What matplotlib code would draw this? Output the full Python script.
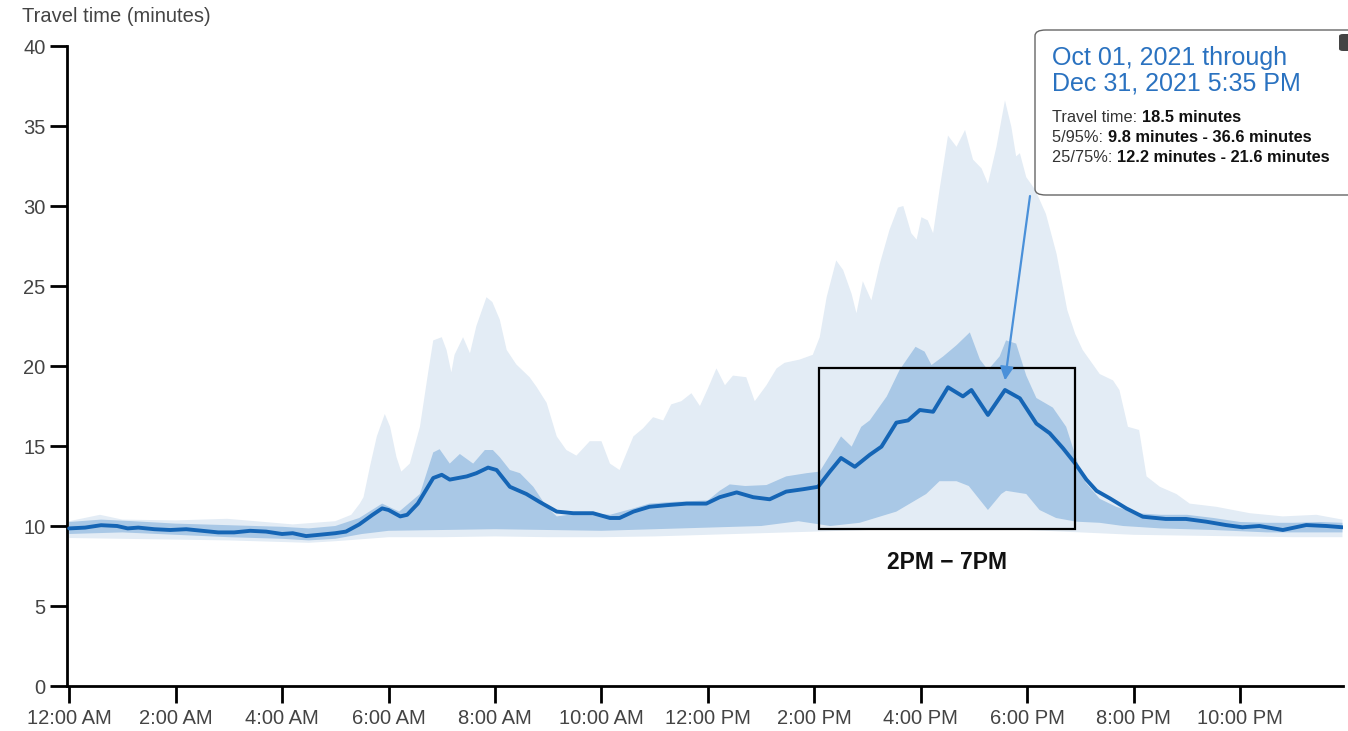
import matplotlib
matplotlib.use("Agg")
import matplotlib.pyplot as plt
import numpy as np
from matplotlib.patches import FancyBboxPatch, Rectangle

plt.rcParams["font.family"] = ["Liberation Sans", "DejaVu Sans"]

# ---- data (hours after midnight, minutes) ---------------------------------
MED_H = [0.0, 0.3, 0.6, 0.9, 1.1, 1.3, 1.6, 1.9, 2.2, 2.5, 2.8, 3.1, 3.4, 3.7,
         4.0, 4.2, 4.45, 4.7, 5.0, 5.2, 5.45, 5.7, 5.88, 6.0, 6.22, 6.35, 6.55,
         6.84, 7.0, 7.15, 7.47, 7.65, 7.87, 8.03, 8.28, 8.59, 8.84, 9.16, 9.47,
         9.84, 10.16, 10.34, 10.6, 10.9, 11.22, 11.6, 11.97, 12.22, 12.54,
         12.85, 13.16, 13.47, 13.79, 14.07, 14.29, 14.5, 14.76, 15.04, 15.26,
         15.54, 15.76, 15.98, 16.23, 16.51, 16.79, 16.95, 17.26, 17.58, 17.86,
         18.17, 18.42, 18.67, 18.9, 19.11, 19.3, 19.55, 19.86, 20.17, 20.6,
         20.98, 21.36, 21.73, 22.04, 22.36, 22.8, 23.24, 23.62, 23.92]
MED_V = [9.85, 9.9, 10.05, 10.0, 9.85, 9.9, 9.8, 9.75, 9.8, 9.7, 9.6, 9.6, 9.7,
         9.65, 9.5, 9.55, 9.37, 9.45, 9.55, 9.65, 10.1, 10.7, 11.1, 11.0, 10.6,
         10.7, 11.4, 13.0, 13.2, 12.9, 13.1, 13.3, 13.65, 13.5, 12.45, 12.0,
         11.5, 10.9, 10.8, 10.8, 10.5, 10.5, 10.9, 11.2, 11.3, 11.4, 11.4, 11.8,
         12.1, 11.8, 11.67, 12.15, 12.3, 12.45, 13.4, 14.25, 13.7, 14.45, 14.96,
         16.46, 16.6, 17.25, 17.14, 18.67, 18.1, 18.5, 16.94, 18.5, 17.98, 16.4,
         15.8, 14.86, 13.9, 12.9, 12.2, 11.73, 11.1, 10.58, 10.44, 10.44, 10.27,
         10.06, 9.92, 10.0, 9.75, 10.06, 10.0, 9.92]

P75_H = [0.0, 0.6, 1.2, 2.0, 3.0, 4.0, 4.5, 5.0, 5.45, 5.88, 6.2, 6.59, 6.84,
         6.96, 7.15, 7.34, 7.59, 7.81, 7.96, 8.09, 8.28, 8.47, 8.72, 8.97, 9.16,
         9.5, 9.84, 10.16, 10.6, 10.9, 11.3, 12.0, 12.22, 12.41, 12.7, 13.1,
         13.47, 13.85, 14.1, 14.35, 14.5, 14.7, 14.88, 15.04, 15.36, 15.6, 15.9,
         16.07, 16.2, 16.42, 16.67, 16.92, 17.11, 17.26, 17.48, 17.6, 17.79,
         17.98, 18.17, 18.48, 18.73, 18.98, 19.1, 19.23, 19.36, 19.67, 20.05,
         20.5, 21.0, 21.5, 22.0, 22.5, 23.0, 23.5, 23.92]
P75_V = [10.25, 10.4, 10.3, 10.15, 10.05, 9.95, 9.85, 10.0, 10.5, 11.4, 10.9,
         12.0, 14.6, 14.8, 13.9, 14.5, 13.9, 14.75, 14.75, 14.3, 13.5, 13.3,
         12.45, 11.2, 10.6, 10.75, 10.8, 10.7, 11.1, 11.4, 11.5, 11.6, 12.2,
         12.6, 12.5, 12.56, 13.1, 13.3, 13.4, 14.75, 15.6, 14.96, 16.2, 16.6,
         18.1, 19.75, 21.2, 20.9, 20.06, 20.6, 21.3, 22.1, 20.4, 19.75, 20.6,
         21.6, 21.4, 19.4, 18.0, 17.4, 16.2, 13.6, 12.7, 12.2, 11.7, 11.2, 10.8,
         10.7, 10.7, 10.5, 10.25, 10.2, 10.2, 10.25, 10.2]

P25_H = [0.0, 1.0, 2.0, 3.0, 4.0, 4.5, 5.0, 5.5, 6.0, 7.0, 8.0, 9.0, 10.0,
         11.0, 12.0, 13.0, 13.7, 14.3, 14.85, 15.54, 16.1, 16.35, 16.67, 16.9,
         17.26, 17.51, 17.6, 17.98, 18.23, 18.54, 18.92, 19.36, 19.8, 20.5,
         21.5, 22.5, 23.92]
P25_V = [9.5, 9.6, 9.45, 9.3, 9.2, 9.1, 9.2, 9.5, 9.7, 9.75, 9.8, 9.75, 9.7,
         9.8, 9.9, 10.0, 10.3, 10.0, 10.2, 10.9, 12.0, 12.8, 12.8, 12.5, 11.0,
         12.0, 12.2, 12.0, 11.0, 10.5, 10.27, 10.2, 10.0, 9.85, 9.75, 9.6, 9.6]

P05_H = [0, 1, 2, 3, 4, 4.5, 5, 6, 7, 8, 9, 10, 11, 12, 13, 14, 15, 16, 17,
         18, 19, 20, 21, 22, 23, 23.92]
P05_V = [9.25, 9.2, 9.15, 9.1, 9.0, 8.95, 9.05, 9.3, 9.3, 9.35, 9.3, 9.3, 9.35,
         9.45, 9.55, 9.65, 9.75, 9.8, 9.8, 9.75, 9.6, 9.45, 9.4, 9.35, 9.3, 9.3]

P95_H = [0.0, 0.58, 1.0, 2.0, 2.97, 3.5, 4.2, 5.0, 5.3, 5.46, 5.53, 5.6, 5.65,
         5.78, 5.93, 6.03, 6.15, 6.24, 6.4, 6.59, 6.74, 6.84, 7.0, 7.09, 7.18,
         7.24, 7.4, 7.53, 7.65, 7.84, 7.95, 8.09, 8.22, 8.4, 8.65, 8.78, 8.97,
         9.16, 9.34, 9.53, 9.78, 10.0, 10.16, 10.34, 10.6, 10.78, 10.97, 11.16,
         11.31, 11.5, 11.69, 11.85, 12.0, 12.16, 12.32, 12.47, 12.72, 12.88,
         13.1, 13.29, 13.44, 13.72, 13.97, 14.1, 14.23, 14.41, 14.54, 14.7,
         14.79, 14.91, 15.07, 15.23, 15.41, 15.57, 15.67, 15.82, 15.92, 16.01,
         16.13, 16.23, 16.35, 16.51, 16.67, 16.83, 16.98, 17.14, 17.26, 17.42,
         17.58, 17.7, 17.79, 17.86, 17.98, 18.15, 18.35, 18.55, 18.75, 18.9,
         19.04, 19.36, 19.61, 19.73, 19.89, 20.1, 20.24, 20.49, 20.8, 21.05,
         21.55, 22.18, 22.8, 23.43, 23.92]
P95_V = [10.3, 10.7, 10.4, 10.35, 10.45, 10.3, 10.1, 10.3, 10.7, 11.4, 11.8,
         12.9, 13.7, 15.6, 17.0, 16.2, 14.3, 13.4, 13.9, 16.2, 19.5, 21.6, 21.8,
         21.0, 19.6, 20.7, 21.8, 20.8, 22.5, 24.3, 24.0, 22.9, 21.0, 20.1, 19.3,
         18.7, 17.7, 15.6, 14.75, 14.4, 15.3, 15.3, 13.9, 13.5, 15.6, 16.1,
         16.8, 16.6, 17.6, 17.8, 18.3, 17.5, 18.6, 19.85, 18.8, 19.4, 19.3,
         17.8, 18.8, 19.85, 20.2, 20.4, 20.7, 21.8, 24.3, 26.6, 26.0, 24.5,
         23.3, 25.3, 24.1, 26.4, 28.5, 29.9, 30.0, 28.3, 27.9, 29.3, 29.1, 28.3,
         31.0, 34.4, 33.7, 34.75, 32.9, 32.35, 31.4, 33.7, 36.6, 34.95, 33.1,
         33.3, 31.8, 31.0, 29.5, 27.0, 23.5, 22.0, 21.0, 19.5, 19.1, 18.5, 16.2,
         16.0, 13.1, 12.45, 12.0, 11.4, 11.2, 10.8, 10.6, 10.7, 10.4]

TICK_H = [0, 2, 4, 6, 8, 10, 12, 14, 16, 18, 20, 22]
TICK_LABELS = ["12:00 AM", "2:00 AM", "4:00 AM", "6:00 AM", "8:00 AM",
               "10:00 AM", "12:00 PM", "2:00 PM", "4:00 PM", "6:00 PM",
               "8:00 PM", "10:00 PM"]
Y_TICKS = [0, 5, 10, 15, 20, 25, 30, 35, 40]

HILITE = (14.08, 18.9, 9.8, 19.9)   # box: start h, end h, low, high
TIP_H, TIP_V = 17.58, 19.1

W, H = 1348, 731
fig = plt.figure(figsize=(W / 100, H / 100), dpi=100)
ax = fig.add_axes([67 / W, 1 - 686 / H, (1343 - 67) / W, (686 - 46) / H])

LIGHT = "#e3ecf5"
DARK = "#a9c8e6"
LINE = "#1565b5"

ax.fill(np.r_[P95_H, P05_H[::-1]], np.r_[P95_V, P05_V[::-1]],
        color=LIGHT, lw=0, zorder=1)
ax.fill(np.r_[P75_H, P25_H[::-1]], np.r_[P75_V, P25_V[::-1]],
        color=DARK, lw=0, zorder=2)
ax.plot(MED_H, MED_V, color=LINE, lw=2.8, zorder=3, solid_capstyle="round")

x0, x1, y0, y1 = HILITE
ax.add_patch(Rectangle((x0, y0), x1 - x0, y1 - y0, fill=False,
                       ec="black", lw=1.6, zorder=4))
ax.text((x0 + x1) / 2, 7.7, "2PM \u2212 7PM", ha="center", va="center",
        fontsize=16.5, fontweight="bold", color="#111")

ax.set_xlim(-0.04, 23.93)
ax.set_ylim(0, 40)
ax.set_xticks(TICK_H)
ax.set_xticklabels(TICK_LABELS)
ax.set_yticks(Y_TICKS)
for s in ("top", "right"):
    ax.spines[s].set_visible(False)
for s in ("left", "bottom"):
    ax.spines[s].set_linewidth(2.0)
ax.tick_params(length=12.5, width=2.0, colors="black", labelcolor="#444",
               labelsize=14.5)
ax.tick_params(axis="x", pad=4)
ax.tick_params(axis="y", pad=3)

fig.text(22 / W, 1 - 16 / H, "Travel time (minutes)", fontsize=14.5,
         color="#444", va="center", ha="left")

# ---- tooltip ---------------------------------------------------------------
bx0, by0, bx1, by1 = 1035, 30, 1365, 195
fig.patches.append(FancyBboxPatch(
    (bx0 / W, 1 - by1 / H), (bx1 - bx0) / W, (by1 - by0) / H,
    boxstyle="round,pad=0,rounding_size=0.008", transform=fig.transFigure,
    fc="white", ec="#666", lw=1.0, zorder=5))
fig.patches.append(FancyBboxPatch(
    (1339 / W, 1 - 51 / H), 14 / W, 17 / H,
    boxstyle="round,pad=0,rounding_size=0.003", transform=fig.transFigure,
    fc="#444", ec="none", zorder=6))

fig.text(1052 / W, 1 - 58 / H, "Oct 01, 2021 through", fontsize=18,
         color="#2a72c0", va="center", zorder=7)
fig.text(1052 / W, 1 - 84 / H, "Dec 31, 2021 5:35 PM", fontsize=18,
         color="#2a72c0", va="center", zorder=7)

rows = [("Travel time: ", "18.5 minutes", 118),
        ("5/95%: ", "9.8 minutes - 36.6 minutes", 138),
        ("25/75%: ", "12.2 minutes - 21.6 minutes", 157)]
renderer = fig.canvas.get_renderer()
for label, value, ypx in rows:
    t = fig.text(1052 / W, 1 - ypx / H, label, fontsize=11.8, color="#333",
                 va="center", zorder=7)
    bb = t.get_window_extent(renderer)
    fig.text(bb.x1 / W, 1 - ypx / H, value, fontsize=11.8, color="#111",
             fontweight="bold", va="center", zorder=7)

ax.annotate("", xy=(TIP_H, TIP_V), xytext=(1030 / W, 1 - 196 / H),
            textcoords="figure fraction",
            arrowprops=dict(arrowstyle="-|>", color="#4a90d9", lw=1.6,
                            mutation_scale=20, shrinkA=0, shrinkB=0),
            zorder=8)

fig.savefig("out.png", dpi=100)
